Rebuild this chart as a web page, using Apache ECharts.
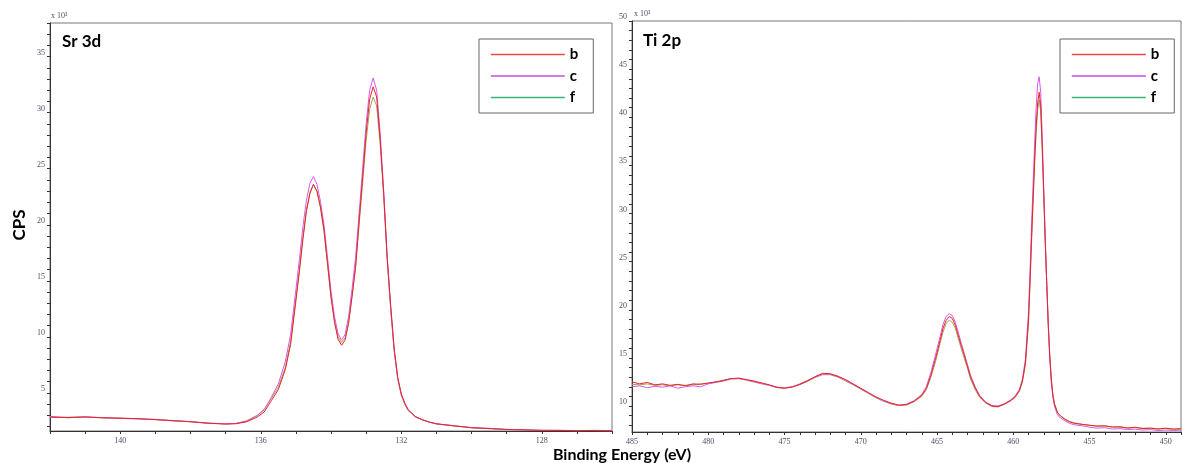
<!DOCTYPE html>
<html>
<head>
<meta charset="utf-8">
<script src="https://cdn.jsdelivr.net/npm/echarts@6/dist/echarts.min.js"></script>
<style>
html,body{margin:0;padding:0;background:#fff;}
#chart{width:1183px;height:463px;}
</style>
</head>
<body>
<div id="chart"></div>
<script>
// ---------- Sr 3d panel (binding energy eV, CPS x10^3) ----------
const srEnergy = [142.0,141.5,141.0,140.5,140.0,139.5,139.0,138.5,138.0,137.5,137.0,
  136.7,136.4,136.1,135.9,135.7,135.5,135.3,135.15,
  135.0,134.9,134.8,134.7,134.6,134.5,134.4,134.3,134.2,134.1,134.0,133.9,133.8,133.7,133.6,133.5,133.4,133.3,133.2,133.1,133.0,132.9,132.8,132.7,132.6,132.5,132.4,132.3,132.2,132.1,132.0,131.9,131.8,
  131.6,131.4,131.2,131.0,
  130.5,130.0,129.5,129.0,128.5,128.0,127.5,127.0,126.5,126.0];
const srB = [2.85,2.80,2.86,2.78,2.74,2.70,2.62,2.52,2.42,2.30,2.22,
  2.25,2.42,2.85,3.3,4.3,5.3,7.1,9.3,
  13.2,15.8,18.7,21.2,22.8,23.6,23.0,21.6,19.6,16.6,13.6,11.3,9.8,9.25,9.7,11.2,13.6,16.2,20.3,24.2,28.2,31.2,32.3,31.4,27.6,22.8,17.0,12.8,8.9,6.4,4.9,4.1,3.5,
  2.9,2.6,2.4,2.25,
  2.05,1.9,1.82,1.74,1.7,1.66,1.65,1.63,1.64,1.62];
const srC = [2.90,2.78,2.84,2.80,2.72,2.68,2.64,2.50,2.44,2.28,2.24,
  2.27,2.48,2.95,3.5,4.6,5.8,7.8,10.2,
  14.2,16.9,19.8,22.2,23.7,24.3,23.6,22.1,20.0,17.1,14.1,11.8,10.3,9.7,10.2,11.8,14.3,17.1,21.0,25.0,29.0,32.0,33.1,32.0,28.2,23.0,17.2,12.5,8.8,6.3,4.9,4.0,3.45,
  2.85,2.62,2.38,2.22,
  2.08,1.88,1.84,1.72,1.71,1.65,1.67,1.62,1.66,1.63];
const srF = [2.82,2.83,2.85,2.76,2.76,2.69,2.60,2.54,2.43,2.31,2.23,
  2.28,2.52,3.0,3.55,4.5,5.5,7.3,9.6,
  13.5,16.0,18.9,21.3,22.9,23.6,23.0,21.5,19.4,16.5,13.5,11.4,10.0,9.5,9.9,11.3,13.7,16.3,20.0,23.7,27.5,30.3,31.4,30.6,27.2,22.5,16.9,12.4,8.7,6.2,4.8,4.0,3.4,
  2.88,2.58,2.4,2.24,
  2.06,1.9,1.8,1.75,1.69,1.66,1.64,1.64,1.63,1.62];
const srXTicks = [126,127,128,129,130,131,132,133,134,135,136,137,138,139,140,141,142];
const srXLabels = [128,132,136,140];
const srYTicks = [2,3,4,5,6,7,8,9,10,11,12,13,14,15,16,17,18,19,20,21,22,23,24,25,26,27,28,29,30,31,32,33,34,35,36,37,38];
const srYLabels = [5,10,15,20,25,30,35];

// ---------- Ti 2p panel ----------
const tiEnergy = [485,484.5,484,483.5,483,482.5,482,481.5,481,480.5,480,479.5,479,478.5,478,477.5,477,476.5,476,475.5,475,474.5,474,473.5,473,472.5,472,471.5,471,470.5,470,469.5,469,468.5,468,467.5,467,466.5,466,
  465.7,465.4,465.1,464.8,464.6,464.4,464.2,464.0,463.8,463.6,463.4,463.2,463.0,462.8,
  462.5,462.2,461.8,461.4,461.0,460.6,460.2,459.9,459.6,459.4,459.2,459.0,
  458.9,458.8,458.7,458.6,458.5,458.4,458.3,458.2,458.1,458.0,457.9,457.8,457.7,457.6,457.5,457.4,457.3,
  457.1,456.9,456.6,456.3,456.0,
  455.5,455.0,454.5,454.0,453.5,453.0,452.5,452.0,451.5,451.0,450.5,450.0,449.5,449.0];
const tiB = [12.5,12.3,12.45,12.2,12.3,12.15,12.25,12.1,12.3,12.25,12.4,12.5,12.65,12.85,12.9,12.75,12.6,12.4,12.2,11.95,11.85,11.95,12.25,12.6,13.05,13.4,13.35,13.1,12.75,12.3,11.85,11.4,10.95,10.6,10.3,10.1,10.15,10.5,11.1,
  11.8,13.2,14.9,16.8,18.1,18.9,19.3,19.1,18.4,17.3,16.2,15.2,14.1,13.0,
  11.9,11.0,10.35,10.0,9.95,10.2,10.55,10.9,11.6,12.6,14.5,19.0,
  23.0,27.5,31.5,35.5,39.0,41.5,42.6,41.2,37.0,32.0,27.0,22.5,18.3,15.0,12.6,11.1,10.2,
  9.3,8.95,8.6,8.35,8.2,
  8.1,8.0,7.9,7.95,7.8,7.85,7.7,7.8,7.65,7.7,7.6,7.7,7.6,7.65];
const tiC = [12.0,12.1,11.9,12.05,11.95,12.1,11.85,12.0,12.1,12.0,12.3,12.45,12.6,12.8,12.85,12.7,12.5,12.35,12.15,11.95,11.9,12.0,12.3,12.65,13.0,13.3,13.3,13.05,12.7,12.25,11.8,11.35,10.9,10.5,10.25,10.05,10.2,10.55,11.2,
  12.0,13.5,15.3,17.2,18.5,19.3,19.6,19.4,18.7,17.6,16.5,15.4,14.3,13.2,
  12.0,11.1,10.4,10.05,10.0,10.2,10.6,11.0,11.7,12.8,14.9,19.8,
  24.0,28.8,33.0,37.2,41.0,43.5,44.2,42.6,38.0,32.6,27.4,22.6,18.2,14.8,12.4,10.9,10.0,
  9.1,8.75,8.45,8.2,8.05,
  7.95,7.8,7.7,7.75,7.6,7.65,7.55,7.6,7.5,7.55,7.45,7.5,7.45,7.5];
const tiF = [12.25,12.2,12.3,12.15,12.2,12.1,12.2,12.15,12.2,12.3,12.35,12.5,12.7,12.85,12.85,12.7,12.5,12.3,12.15,11.9,11.85,12.0,12.2,12.55,12.95,13.25,13.25,13.0,12.6,12.2,11.75,11.3,10.85,10.5,10.2,10.05,10.1,10.45,11.0,
  11.7,13.0,14.6,16.5,17.7,18.6,18.9,18.7,18.1,17.0,15.9,14.9,13.9,12.8,
  11.7,10.9,10.3,9.95,9.9,10.15,10.5,10.85,11.5,12.5,14.3,18.6,
  22.6,27.0,31.0,35.0,38.4,40.8,41.8,40.6,36.6,31.8,26.9,22.6,18.5,15.2,12.8,11.2,10.3,
  9.35,9.0,8.65,8.4,8.25,
  8.1,8.0,7.95,7.9,7.85,7.8,7.75,7.75,7.7,7.7,7.65,7.65,7.6,7.6];
const tiXTicks = [449,450,451,452,453,454,455,456,457,458,459,460,461,462,463,464,465,466,467,468,469,470,471,472,473,474,475,476,477,478,479,480,481,482,483,484,485];
const tiXLabels = [450,455,460,465,470,475,480,485];
const tiYTicks = [8,9,10,11,12,13,14,15,16,17,18,19,20,21,22,23,24,25,26,27,28,29,30,31,32,33,34,35,36,37,38,39,40,41,42,43,44,45,46,47,48,49,50];
const tiYLabels = [10,15,20,25,30,35,40,45,50];

const seriesNames = ['b','c','f'];
const lineColors = {b:'#e3262b', c:'#da58ec', f:'#a8a24e'};
const legendColors = {b:'#f04848', c:'#c94ae6', f:'#3cb371'};

const zip = (xs, ys) => xs.map((x, i) => [x, ys[i]]);

const labelFont = {fontFamily:'Liberation Serif', fontSize:8, color:'#4a4e66'};

function xAxisCfg(grid, min, max, ticks, labels){
  return {
    type:'value', gridIndex:grid, min:min, max:max, inverse:true,
    axisLine:{show:true, onZero:false, lineStyle:{color:'#333', width:1}},
    axisTick:{show:true, customValues:ticks, length:3, lineStyle:{color:'#333'}},
    axisLabel:Object.assign({customValues:labels, margin:6}, labelFont),
    splitLine:{show:false}
  };
}
function yAxisCfg(grid, min, max, ticks, labels){
  return {
    type:'value', gridIndex:grid, min:min, max:max,
    axisLine:{show:true, onZero:false, lineStyle:{color:'#333', width:1}},
    axisTick:{show:true, customValues:ticks, length:3, lineStyle:{color:'#333'}},
    axisLabel:Object.assign({customValues:labels, margin:5, verticalAlign:'bottom'}, labelFont),
    splitLine:{show:false}
  };
}

function legendCfg(left, top){
  return {
    orient:'vertical', left:left, top:top,
    padding:[8,15,8,11],
    itemWidth:74, itemHeight:14, itemGap:6.5,
    borderColor:'#666', borderWidth:1, backgroundColor:'#fff',
    selectedMode:false,
    textStyle:{fontFamily:'Lato', fontWeight:'bold', fontSize:15, color:'#000'},
    data: seriesNames.map(n => ({name:n, itemStyle:{color:legendColors[n], opacity:0, borderWidth:0}, lineStyle:{color:legendColors[n], width:1.6}}))
  };
}

const drawOrder = ['f','c','b'];
const srData = {b:srB, c:srC, f:srF};
const tiData = {b:tiB, c:tiC, f:tiF};
const series = [];
drawOrder.forEach(n => {
  series.push({name:n, type:'line', xAxisIndex:0, yAxisIndex:0, data:zip(srEnergy, srData[n]),
    showSymbol:false, symbol:'none', lineStyle:{color:lineColors[n], width:1}, itemStyle:{color:lineColors[n]}, animation:false});
});
drawOrder.forEach(n => {
  series.push({name:n, type:'line', xAxisIndex:1, yAxisIndex:1, data:zip(tiEnergy, tiData[n]),
    showSymbol:false, symbol:'none', lineStyle:{color:lineColors[n], width:1}, itemStyle:{color:lineColors[n]}, animation:false});
});

const chart = echarts.init(document.getElementById('chart'), null, {renderer:'canvas'});
chart.setOption({
  backgroundColor:'#fff',
  animation:false,
  title:[
    {text:'Sr 3d', left:62, top:33, padding:0, textStyle:{fontFamily:'Lato', fontWeight:'bold', fontSize:17, color:'#000'}},
    {text:'Ti 2p', left:643, top:32, padding:0, textStyle:{fontFamily:'Lato', fontWeight:'bold', fontSize:17, color:'#000'}}
  ],
  legend:[legendCfg(479, 39), legendCfg(1060, 39)],
  grid:[
    {left:50, top:23, width:562, height:408, show:true, borderColor:'#777', borderWidth:1, backgroundColor:'#fff'},
    {left:632, top:21, width:549, height:411, show:true, borderColor:'#777', borderWidth:1, backgroundColor:'#fff'}
  ],
  xAxis:[
    xAxisCfg(0, 126, 142, srXTicks, srXLabels),
    xAxisCfg(1, 449, 485, tiXTicks, tiXLabels)
  ],
  yAxis:[
    yAxisCfg(0, 1.6, 38, srYTicks, srYLabels),
    yAxisCfg(1, 7.3, 50, tiYTicks, tiYLabels)
  ],
  graphic:[
    {type:'text', x:51, y:12, style:{text:'x 10³', fontFamily:'Liberation Serif', fontSize:8, fill:'#4a4e66'}},
    {type:'text', x:634, y:10, style:{text:'x 10³', fontFamily:'Liberation Serif', fontSize:8, fill:'#4a4e66'}},
    {type:'text', x:20, y:225, rotation:Math.PI/2, style:{text:'CPS', fontFamily:'Lato', fontWeight:'bold', fontSize:17, fill:'#000', align:'center', verticalAlign:'middle'}},
    {type:'text', x:622, y:455, style:{text:'Binding Energy (eV)', fontFamily:'Lato', fontWeight:'bold', fontSize:16, fill:'#000', align:'center', verticalAlign:'middle'}}
  ],
  series:series
});
</script>
</body>
</html>
